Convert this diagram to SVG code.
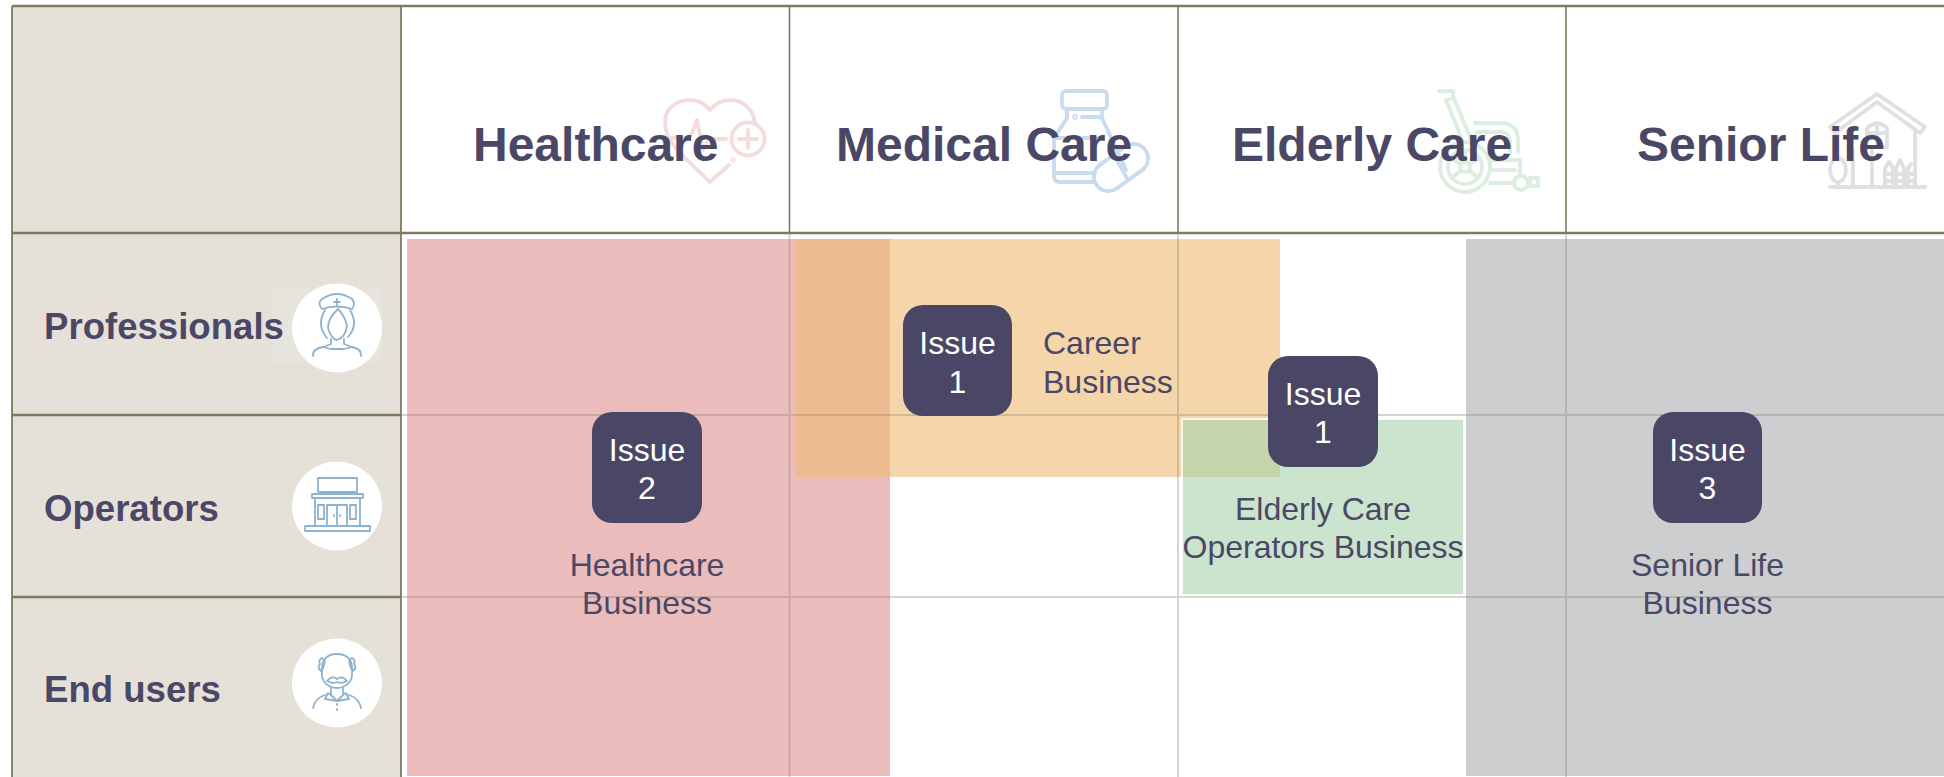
<svg xmlns="http://www.w3.org/2000/svg" width="1944" height="777" viewBox="0 0 1944 777">
<style>
text{font-family:"Liberation Sans",Arial,sans-serif}
.head{font-size:48px;font-weight:700;fill:#4a4866}
.row{font-size:36.6px;font-weight:700;fill:#4a4866}
.lab{font-size:32px;fill:#4a4866}
.mid{text-anchor:middle}
.badge{fill:#4a4665}
.btx{font-size:32px;fill:#fff;text-anchor:middle}
.dark{stroke:#7f7a5f;fill:none}
.soft{stroke:#7f7a5f;stroke-opacity:.3;stroke-width:2;fill:none}
.ic{fill:none;stroke-width:3.8;stroke-linecap:round;stroke-linejoin:round}
.pp{fill:none;stroke:#8db3d0;stroke-width:1.8;stroke-linecap:round;stroke-linejoin:round}
</style>
<rect width="1944" height="777" fill="#fff"/>
<rect x="12" y="6" width="389" height="771" fill="#e5e1d9"/>
<g id="header-icons">
<g id="icon-heart" class="ic" stroke="#f5dcdc">
<path d="M729 165 710 182 685 158C672 145 665 135 665 122 665 108 677 100 690 100 698 100 705 104 710 110 715 104 722 100 731 100 744 100 753 110 755 123"/>
<path d="M668 138H690L697 120 703 150 709 139H726"/>
<circle cx="748" cy="139" r="16.5"/><path d="M739 139H757M748 130V148"/><circle cx="733" cy="160" r=".8"/>
</g>
<g id="icon-bottle" class="ic" stroke="#c8dcee">
<rect x="1062" y="91" width="45" height="18" rx="4"/>
<path d="M1067 109V118L1054 138V176Q1054 182 1060 182H1095M1102 109V118L1126 170M1054 138H1100M1054 173H1095M1082 117H1102"/>
<circle cx="1075" cy="117" r=".8"/>
<rect x="1091" y="153" width="60" height="29" rx="14.5" transform="rotate(-36 1121 167.500)"/>
<path d="M1110 148 1128 180"/>
</g>
<g id="icon-wheelchair" class="ic" stroke="#dbeedf">
<path d="M1439 91H1453V98L1446 100 1463 142M1453 96 1472 142"/>
<circle cx="1465" cy="167" r="25"/><circle cx="1465" cy="167" r="17"/><circle cx="1465" cy="167" r="5"/>
<path d="M1465 150V162M1450 158 1461 164M1480 158 1469 164M1452 178 1461 170M1478 178 1469 170"/>
<path d="M1475 123H1505Q1518 126 1518 140V152M1477 132H1503Q1510 134 1510 142V152M1490 160H1520V175M1490 170H1515M1490 183H1515"/>
<circle cx="1521" cy="183" r="7"/><rect x="1530" y="178" width="8" height="8"/>
</g>
<g id="icon-house" class="ic" stroke="#dfe0e1">
<path d="M1830 127 1877 94 1925 127 1920 133 1877 102 1835 133Z"/>
<path d="M1837 128V150M1915 132V187M1830 187H1925M1853 150V187M1872 150V187"/>
<path d="M1867 147V128Q1877 119 1887 128V147H1867M1877 123V147M1867 133H1887"/>
<ellipse cx="1838" cy="170" rx="8" ry="12"/><path d="M1838 182V187"/>
<path d="M1885 187V168L1889 162 1893 168V187M1896 187V168L1900 160 1904 168V187M1885 174H1913M1885 181H1913M1908 187V168L1911 164"/>
</g>
</g>
<g id="overlays">
<rect id="band-healthcare" x="407" y="239" width="483" height="537" fill="#de8f8f" fill-opacity=".6"/>
<rect id="band-career" x="796" y="239" width="484" height="238" fill="#edbb71" fill-opacity=".6"/>
<rect id="band-elderly" x="1182" y="419" width="282" height="176" fill="#a7d2ac" fill-opacity=".6" stroke="#fff" stroke-opacity=".8" stroke-width="2"/>
<rect id="band-senior" x="1466" y="239" width="478" height="537" fill="#acadb1" fill-opacity=".6"/>
</g>
<g id="grid">
<path class="dark" stroke-width="2.4" d="M12 6H1944M12 233H1944M12 415H401M12 597H401"/>
<path class="dark" stroke-width="1.8" d="M12 6V777M401 6V777"/>
<path class="dark" stroke-width="1.6" d="M789.500 6V233M1178 6V233M1566 6V233"/>
<path class="soft" d="M401 415H1944M401 597H1944M789.500 233V777M1178 233V777M1566 233V777"/>
</g>
<g id="col-healthcare"><text class="head" x="473" y="161">Healthcare</text></g>
<g id="col-medical"><text class="head" x="836" y="161">Medical Care</text></g>
<g id="col-elderly"><text class="head" x="1232" y="161">Elderly Care</text></g>
<g id="col-senior"><text class="head" x="1637" y="161">Senior Life</text></g>
<g id="row-professionals">
<rect x="272" y="289" width="110" height="73" fill="#e7e4dd"/>
<text class="row" x="44" y="339">Professionals</text>
<ellipse cx="337" cy="328" rx="45" ry="44.500" fill="#fff"/>
<g class="pp">
<path d="M322 309Q317 303 322 299 337 289 352 299 356 303 352 309 337 304 322 309Z"/>
<path d="M337 299V305M334 302H340"/>
<path d="M325 310Q316 325 327 338M350 310Q359 325 348 337M338 309Q328 318 328 328 331 339 337 340 345 338 347 326 345 316 338 309"/>
<path d="M331 339V344L323 347 331 349H344L352 347 344 344V339"/>
<path d="M313 356Q312 349 323 347M361 356Q362 349 352 347"/>
</g>
</g>
<g id="row-operators">
<text class="row" x="44" y="521">Operators</text>
<ellipse cx="337" cy="506" rx="45" ry="44.500" fill="#fff"/>
<g class="pp" stroke-width="2">
<rect x="318" y="478" width="39" height="14"/><path d="M326 492V494M349 492V494"/>
<rect x="312" y="494" width="51" height="4"/>
<path d="M315 498V526M360 498V526"/>
<rect x="305" y="526" width="65" height="5"/>
<path d="M327 526V505H347V526M337 505V526"/>
<rect x="318" y="505" width="6" height="14"/><rect x="350" y="505" width="6" height="14"/>
<path d="M334 515V516M340 515V516"/>
</g>
</g>
<g id="row-endusers">
<text class="row" x="44" y="702">End users</text>
<ellipse cx="337" cy="683" rx="45" ry="44.500" fill="#fff"/>
<g class="pp" stroke="#8db5c8">
<path d="M322 668C322 658 329 654 337 654 345 654 352 658 352 668V675C352 682 345 688 337 688 329 688 322 682 322 675Z"/>
<path d="M322 658Q318 660 320 664 317 668 321 671 324 668 324 665 326 660 322 658ZM352 658Q356 660 354 664 357 668 353 671 350 668 350 665 348 660 352 658Z"/>
<path d="M327 681Q332 675 337 679 342 675 347 681 341 684 337 682 333 684 327 681Z"/>
<path d="M331 688V695L337 701 343 695V688M331 695 328 693 325 699 337 701 349 699 346 693 343 695"/>
<path d="M313 708Q315 698 325 695M361 708Q359 698 349 695"/>
<path d="M337 704V705M337 709V710"/>
</g>
</g>
<g id="badge-healthcare">
<rect class="badge" x="592" y="412" width="110" height="111" rx="20"/>
<text class="btx" x="647" y="461">Issue</text><text class="btx" x="647" y="499">2</text>
<text class="lab mid" x="647" y="576">Healthcare</text><text class="lab mid" x="647" y="614">Business</text>
</g>
<g id="badge-career">
<rect class="badge" x="903" y="305" width="109" height="111" rx="20"/>
<text class="btx" x="957.500" y="354">Issue</text><text class="btx" x="957.500" y="393">1</text>
<text class="lab" x="1043" y="354">Career</text><text class="lab" x="1043" y="393">Business</text>
</g>
<g id="badge-elderly">
<rect class="badge" x="1268" y="356" width="110" height="111" rx="20"/>
<text class="btx" x="1323" y="405">Issue</text><text class="btx" x="1323" y="443">1</text>
<text class="lab mid" x="1323" y="520">Elderly Care</text><text class="lab mid" x="1323" y="558">Operators Business</text>
</g>
<g id="badge-senior">
<rect class="badge" x="1653" y="412" width="109" height="111" rx="20"/>
<text class="btx" x="1707.500" y="461">Issue</text><text class="btx" x="1707.500" y="499">3</text>
<text class="lab mid" x="1707.500" y="576">Senior Life</text><text class="lab mid" x="1707.500" y="614">Business</text>
</g>
</svg>
